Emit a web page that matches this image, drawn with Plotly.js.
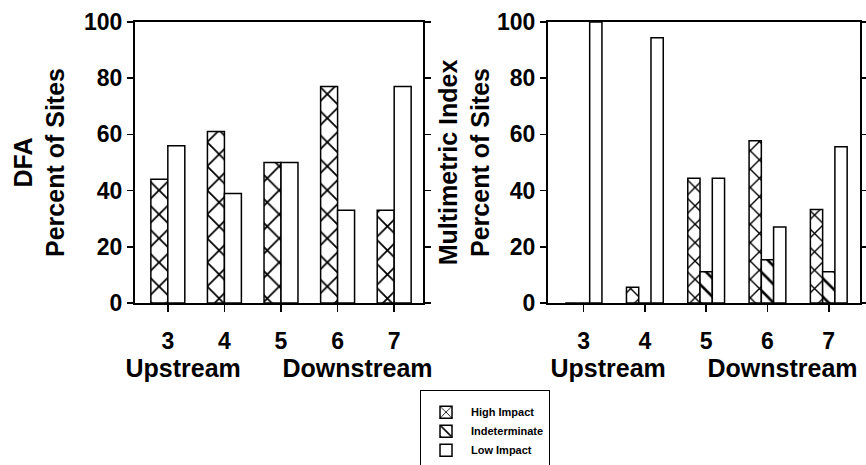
<!DOCTYPE html>
<html>
<head>
<meta charset="utf-8">
<script src="https://cdn.plot.ly/plotly-3.0.1.min.js"></script>
<style>html,body{margin:0;padding:0;background:#fff;}#chart{width:866px;height:465px;}</style>
</head>
<body>
<div id="chart"></div>
<script>
// ---- data ----
const categories = ['3', '4', '5', '6', '7'];
const dfaHigh = [44, 61, 50, 77, 33];
const dfaLow = [56, 39, 50, 33, 77];
const mmiHigh = [0, 5.6, 44.4, 57.7, 33.3];
const mmiIndet = [0, 0, 11.1, 15.4, 11.1];
const mmiLow = [100, 94.4, 44.4, 27, 55.6];
const seriesNames = ['High Impact', 'Indeterminate', 'Low Impact'];
const yTicks = [0, 20, 40, 60, 80, 100];

const FONT = 'Liberation Sans, Arial, Helvetica, sans-serif';
const outline = {color: '#000', width: 1.5};

function bar(x, y, name, shape, size, xa, ya, show) {
  return {
    type: 'bar', x: x, y: y, name: name, xaxis: xa, yaxis: ya,
    showlegend: show, legendgroup: name,
    marker: {
      color: '#fff', line: outline,
      pattern: {shape: shape, size: size, solidity: 0.2, fgcolor: '#000', bgcolor: '#fff', fillmode: 'replace'}
    },
    hoverinfo: 'skip'
  };
}

const traces = [
  bar(categories, dfaHigh, seriesNames[0], 'x', 17, 'x', 'y', false),
  bar(categories, dfaLow, seriesNames[2], '', 17, 'x', 'y', false),
  bar(categories, mmiHigh, seriesNames[0], 'x', 13, 'x2', 'y2', true),
  bar(categories, mmiIndet, seriesNames[1], '\\', 13, 'x2', 'y2', true),
  bar(categories, mmiLow, seriesNames[2], '', 13, 'x2', 'y2', true)
];

const tickFont = {family: FONT, size: 23, color: '#000', weight: 'bold'};
const titleFont = {family: FONT, size: 25, color: '#000', weight: 'bold'};

function xAxis(domain, anchor) {
  return {
    domain: domain, anchor: anchor, type: 'category', range: [-0.58, 4.51],
    showline: true, linecolor: '#000', linewidth: 2, mirror: true,
    ticks: 'outside', ticklen: 7, tickwidth: 1.5, tickcolor: '#000',
    showgrid: false, zeroline: false, fixedrange: true,
    tickfont: tickFont, ticklabelstandoff: 9,
    title: {text: 'Upstream\u00a0\u00a0\u00a0\u00a0\u00a0\u00a0Downstream', font: titleFont, standoff: 4}
  };
}
function yAxis(domain, anchor, title, standoff) {
  return {
    domain: domain, anchor: anchor, range: [0, 100], tickvals: yTicks,
    ticktext: yTicks.map(String),
    showline: true, linecolor: '#000', linewidth: 2, mirror: 'ticks',
    ticks: 'outside', ticklen: 6, tickwidth: 1.5, tickcolor: '#000',
    showgrid: false, zeroline: false, fixedrange: true,
    tickfont: tickFont,
    title: {text: title, font: titleFont, standoff: standoff}
  };
}

const layout = {
  width: 866, height: 465,
  margin: {l: 0, r: 0, t: 0, b: 0, autoexpand: false},
  paper_bgcolor: '#fff', plot_bgcolor: '#fff',
  barmode: 'group', bargap: 0.4, bargroupgap: 0,
  xaxis: xAxis([0.1559, 0.4885], 'y'),
  yaxis: yAxis([0.3484, 0.9527], 'x', 'DFA<br>Percent of Sites', 12),
  xaxis2: xAxis([0.6328, 0.9931], 'y2'),
  yaxis2: yAxis([0.3484, 0.9527], 'x2', 'Multimetric Index<br>Percent of Sites', 0),
  showlegend: true,
  legend: {
    x: 0.485, xanchor: 'left', y: 0.161, yanchor: 'top',
    bordercolor: '#000', borderwidth: 1, bgcolor: '#fff',
    font: {family: FONT, size: 11, color: '#000', weight: 'bold'},
    title: {text: '\u00a0', font: {family: FONT, size: 5}},
    traceorder: 'normal', tracegroupgap: 0, itemwidth: 40,
    entrywidth: 158, entrywidthmode: 'pixels'
  }
};

Plotly.newPlot('chart', traces, layout, {displayModeBar: false, staticPlot: true});
</script>
</body>
</html>
